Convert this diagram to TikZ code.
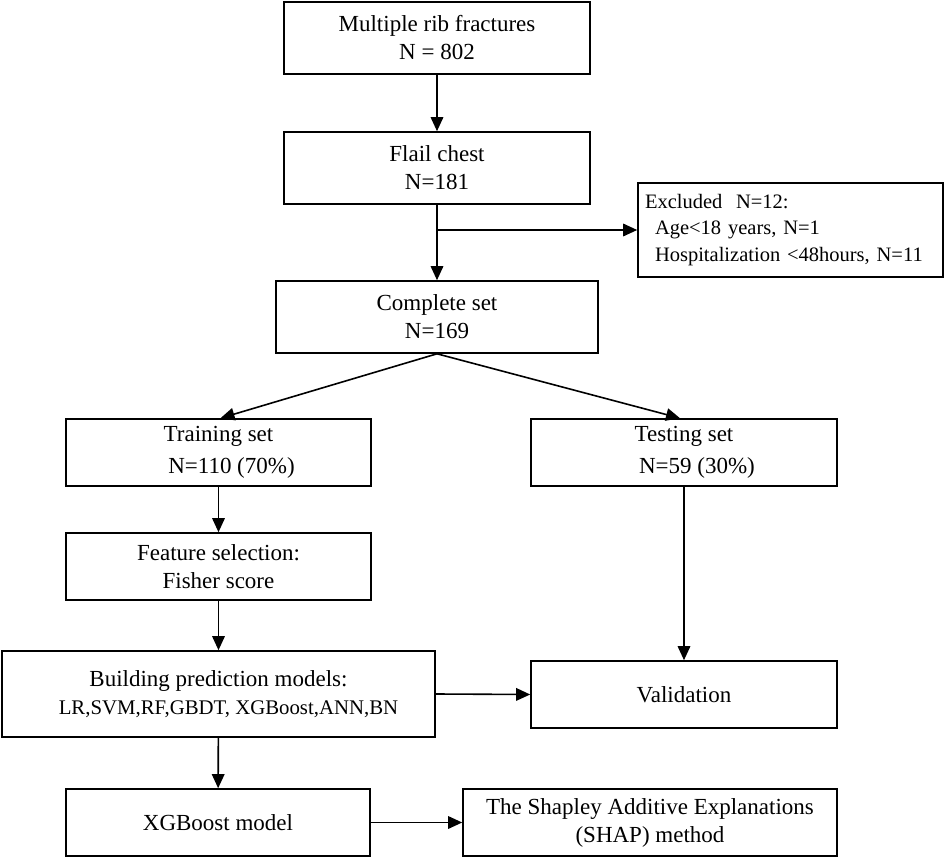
\documentclass[tikz,border=0pt]{standalone}
\usepackage{fontspec}
\setmainfont{Liberation Serif}
\usetikzlibrary{arrows.meta}
\begin{document}
\begin{tikzpicture}[x=1pt,y=-1pt,
  box/.style={draw,line width=1.6pt,inner sep=2pt,align=center,font=\fontsize{23}{28}\selectfont},
  arr/.style={line width=1.6pt,-{Triangle[length=14pt,width=12.5pt]}}]
\useasboundingbox (0,0) rectangle (945,858);
\node[box,minimum width=306pt,minimum height=72pt] (b1) at (437,38) {Multiple rib fractures\\N = 802};
\node[box,minimum width=306pt,minimum height=72pt] (b2) at (437,168) {Flail chest\\N=181};
\node[box,minimum width=305pt,minimum height=94pt,align=left,font=\fontsize{20.5}{26.5}\selectfont,text width=291pt] (ex) at (790.5,230) {Excluded\ \ N=12:\\\hspace*{10pt}Age<18 years, N=1\\\hspace*{10pt}Hospitalization <48hours, N=11};
\node[box,minimum width=322pt,minimum height=72pt] (cs) at (437,317) {Complete set\\N=169};
\node[box,minimum width=305pt,minimum height=67pt,font=\fontsize{23}{32}\selectfont] (tr) at (218.5,452.5) {Training set\\\hspace*{26pt}N=110 (70\%)};
\node[box,minimum width=306pt,minimum height=67pt,font=\fontsize{23}{32}\selectfont] (te) at (684,452.5) {Testing set\\\hspace*{26pt}N=59 (30\%)};
\node[box,minimum width=305pt,minimum height=67pt] (fs) at (218.5,566.5) {Feature selection:\\Fisher score};
\node[box,minimum width=433pt,minimum height=86pt] (bm) at (218.5,694) {Building prediction models:\\\hspace*{20pt}{\fontsize{20.8}{24}\selectfont LR,SVM,RF,GBDT, XGBoost,ANN,BN}};
\node[box,minimum width=306pt,minimum height=67pt] (va) at (684,694.5) {Validation};
\node[box,minimum width=304pt,minimum height=67pt] (xg) at (218,822.5) {XGBoost model};
\node[box,minimum width=374pt,minimum height=67pt] (sh) at (650,822.5) {The Shapley Additive Explanations\\(SHAP) method};
\coordinate (br) at (437,230);
\draw[arr] (b1) -- (b2);
\draw[arr] (b2) -- (cs);
\draw[arr] (br) -- (ex.west |- br);
\draw[arr] (cs.south) -- ([xshift=2pt]tr.north);
\draw[arr] (cs.south) -- ([xshift=-4pt]te.north);
\draw[arr] (tr) -- (fs);
\draw[arr] (fs) -- (bm);
\draw[arr] (bm) -- (xg);
\draw[arr] (bm.east) -- (va.west);
\draw[arr] (te) -- (va);
\draw[arr] (xg) -- (sh);
\end{tikzpicture}
\end{document}
